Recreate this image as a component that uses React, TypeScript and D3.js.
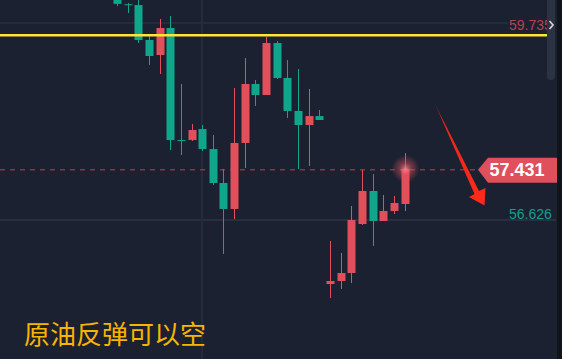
import React from "react";
import * as d3 from "d3";

// Crude oil candles: open, high, low, close
const opens = [60.21, 60.105, 60.092, 59.524, 59.28, 59.719, 57.899, 57.899, 58.078, 57.753, 57.201, 56.779, 57.851, 58.809, 58.63, 59.475, 58.907, 58.371, 58.143, 58.289, 55.56, 55.609, 55.739, 56.535, 57.071, 56.584, 56.746, 56.86];
const highs = [60.26, 60.125, 60.206, 59.589, 59.865, 59.914, 58.809, 58.159, 58.143, 57.981, 57.428, 58.744, 59.231, 58.874, 59.573, 59.508, 59.199, 59.053, 58.728, 58.387, 56.259, 56.064, 56.827, 57.412, 57.347, 57.006, 56.99, 57.688];
const lows = [60.076, 59.96, 59.475, 59.118, 58.972, 57.737, 57.656, 57.883, 57.721, 57.168, 56.048, 56.616, 57.445, 58.452, 58.63, 58.89, 58.257, 57.428, 57.477, 58.224, 55.333, 55.479, 55.577, 56.519, 56.178, 56.584, 56.697, 56.746];
const closes = [60.11, 60.095, 59.524, 59.264, 59.719, 57.899, 57.883, 58.062, 57.753, 57.201, 56.779, 57.851, 58.809, 58.63, 59.475, 58.907, 58.371, 58.143, 58.289, 58.224, 55.609, 55.739, 56.6, 57.071, 56.584, 56.746, 56.876, 57.431];

const gridPrices = [59.8, 56.6];
const resistance = 59.6;
const lastPrice = 57.431;
const highLabel = "59.735";
const lowLabel = "56.626";
const caption = "原油反弹可以空";

const W = 562;
const H = 359;

const UP = "#e04f5a";
const DOWN = "#0fa68b";
const BG = "#1b2130";

export default function App() {
  const y = d3.scaleLinear().domain([59.8, 56.6]).range([23, 220]);
  const x = d3.scaleLinear().domain([0, opens.length - 1]).range([117, 404.5]);
  const bodyW = 8;
  const yl = y(lastPrice) + 1;

  // tapered shaft with a wide head, pointing down-right
  const arrowPath = "M435,104 L479,191 L485.5,188 L484.5,205.5 L469,197 L474.5,194 Z";

  return (
    <svg
      width={W}
      height={H}
      style={{ position: "absolute", left: 0, top: 0, display: "block" }}
      fontFamily="'Liberation Sans', Arial, sans-serif"
    >
      <defs>
        <radialGradient id="glow">
          <stop offset="0%" stopColor="#ff8a94" stopOpacity={0.85} />
          <stop offset="45%" stopColor="#e0505d" stopOpacity={0.45} />
          <stop offset="100%" stopColor="#e0505d" stopOpacity={0} />
        </radialGradient>
        <linearGradient id="arrowFill" x1="0" y1="0" x2="0" y2="1">
          <stop offset="0%" stopColor="#a8161c" />
          <stop offset="25%" stopColor="#f0261a" />
          <stop offset="100%" stopColor="#ff2a1a" />
        </linearGradient>
        <clipPath id="plot">
          <rect x={0} y={0} width={548} height={H} />
        </clipPath>
      </defs>
      <rect width={W} height={H} fill={BG} />

      {/* grid */}
      <line x1={0} x2={510} y1={y(gridPrices[0])} y2={y(gridPrices[0])} stroke="#28303f" strokeWidth={1.5} />
      <line x1={0} x2={556} y1={y(gridPrices[1])} y2={y(gridPrices[1])} stroke="#28303f" strokeWidth={2} />
      <line x1={202} x2={202} y1={0} y2={H} stroke="#242b3a" strokeWidth={2} />

      {/* current price */}
      <line x1={0} x2={478} y1={yl} y2={yl} stroke="#b8434f" strokeWidth={1} strokeDasharray="5,5" />

      {/* candles */}
      <g clipPath="url(#plot)">
        {opens.map((o, i) => {
          const c = closes[i];
          const col = c >= o ? UP : DOWN;
          const cx = Math.round(x(i));
          const top = y(Math.max(o, c));
          const bot = y(Math.min(o, c));
          return (
            <g key={i}>
              <line x1={cx + 0.5} x2={cx + 0.5} y1={y(highs[i])} y2={y(lows[i])} stroke={col} strokeWidth={1} />
              <rect x={cx - bodyW / 2 + 0.5} y={top} width={bodyW} height={Math.max(1, bot - top)} fill={col} />
            </g>
          );
        })}
      </g>

      {/* glow at last price */}
      <circle cx={Math.round(x(opens.length - 1)) + 0.5} cy={y(lastPrice)} r={14} fill="url(#glow)" />

      {/* resistance */}
      <line x1={0} x2={547} y1={y(resistance)} y2={y(resistance)} stroke="#ffe43a" strokeWidth={2.5} />

      {/* labels */}
      <rect x={508} y={16} width={40} height={16} fill={BG} />
      <text x={509} y={30} fontSize={14} fill="#b8434f">{highLabel}</text>
      <text x={509} y={219} fontSize={14} fill="#14a08a">{lowLabel}</text>

      <path d={`M478,${yl} L488,${yl - 12} L557,${yl - 12} L557,${yl + 13} L488,${yl + 13} Z`} fill="#df4f5c" />
      <text x={517} y={yl + 6.5} fontSize={18} fontWeight="bold" fill="#ffffff" textAnchor="middle">
        {lastPrice.toFixed(3)}
      </text>

      {/* arrow */}
      <path d={arrowPath} fill="url(#arrowFill)" />

      {/* scrollbar and edge */}
      <rect x={547} y={-6} width={8} height={86} rx={4} fill="#2b3343" />
      <path d="M549.5,21 L553,25 L549.5,29" fill="none" stroke="#d4d8e0" strokeWidth={1.6} />
      <rect x={557} y={0} width={5} height={H} fill="#10141b" />

      <text x={24} y={344} fontSize={26} fill="#f7b500" fontFamily="'Noto Sans CJK SC', sans-serif">
        {caption}
      </text>
    </svg>
  );
}
